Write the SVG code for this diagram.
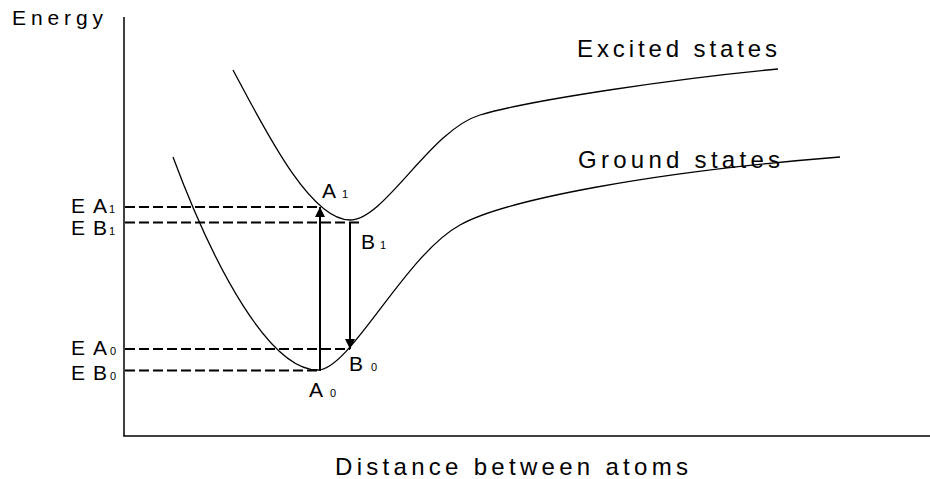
<svg xmlns="http://www.w3.org/2000/svg" width="930" height="479" viewBox="0 0 930 479">
<defs>
<style>
text{font-family:"Liberation Sans","DejaVu Sans",sans-serif;fill:#000}
.l{font-size:21px}
.s{font-size:11px}
.axis{stroke:#000;stroke-width:1.5;fill:none}
.curve{stroke:#000;stroke-width:1.3;fill:none}
.dash{stroke:#000;stroke-width:2;stroke-dasharray:10 4;fill:none}
.arr{stroke:#000;stroke-width:2;fill:none}
</style>
<marker id="ah" viewBox="0 0 10 10" refX="10" refY="5" markerWidth="10" markerHeight="10" markerUnits="userSpaceOnUse" orient="auto">
<path d="M0,0 L10,5 L0,10 z" fill="#000"/>
</marker>
</defs>
<rect width="930" height="479" fill="#fff"/>
<g id="axes">
<line class="axis" x1="124" y1="17" x2="124" y2="436"/>
<line class="axis" x1="123.25" y1="436" x2="930" y2="436"/>
<text x="12" y="25" textLength="91" lengthAdjust="spacing" style="font-size:21px">Energy</text>
<text x="335" y="475" textLength="353" lengthAdjust="spacing" style="font-size:24px">Distance between atoms</text>
</g>
<g id="excited">
<path class="curve" d="M233,70 C265,130 310,220 350,220 C385,220 430,130 480,115 C530,100 680,78 778,69"/>
<text x="577" y="57" textLength="200" lengthAdjust="spacing" style="font-size:24px">Excited states</text>
</g>
<g id="ground">
<path class="curve" d="M173,157 C215,270 270,370 318,370 C350,370 405,255 460,225 C505,200 650,172 840,157"/>
<text x="578" y="168" textLength="202" lengthAdjust="spacing" style="font-size:24px">Ground states</text>
</g>
<g id="connectors">
<line class="dash" x1="125" y1="207" x2="320" y2="207"/>
<line class="dash" x1="125" y1="222.5" x2="360" y2="222.5"/>
<line class="dash" x1="125" y1="349" x2="350" y2="349"/>
<line class="dash" x1="125" y1="370.5" x2="318" y2="370.5"/>
<line class="arr" x1="320" y1="371" x2="320" y2="207" marker-end="url(#ah)"/>
<line class="arr" x1="350" y1="222" x2="350" y2="349" marker-end="url(#ah)"/>
</g>
<g id="EA1"><text class="l" x="71" y="213" textLength="36" lengthAdjust="spacing">EA</text><text class="s" x="109" y="213">1</text></g>
<g id="EB1"><text class="l" x="71" y="235" textLength="36" lengthAdjust="spacing">EB</text><text class="s" x="109" y="235">1</text></g>
<g id="EA0"><text class="l" x="71" y="355" textLength="36" lengthAdjust="spacing">EA</text><text class="s" x="110" y="355">0</text></g>
<g id="EB0"><text class="l" x="71" y="380" textLength="36" lengthAdjust="spacing">EB</text><text class="s" x="110" y="380">0</text></g>
<g id="A1"><text class="l" x="322" y="198">A</text><text class="s" x="342" y="198">1</text></g>
<g id="B1"><text class="l" x="361" y="249">B</text><text class="s" x="380" y="249">1</text></g>
<g id="A0"><text class="l" x="309" y="397">A</text><text class="s" x="330" y="397">0</text></g>
<g id="B0"><text class="l" x="349" y="371">B</text><text class="s" x="371" y="371">0</text></g>
</svg>
